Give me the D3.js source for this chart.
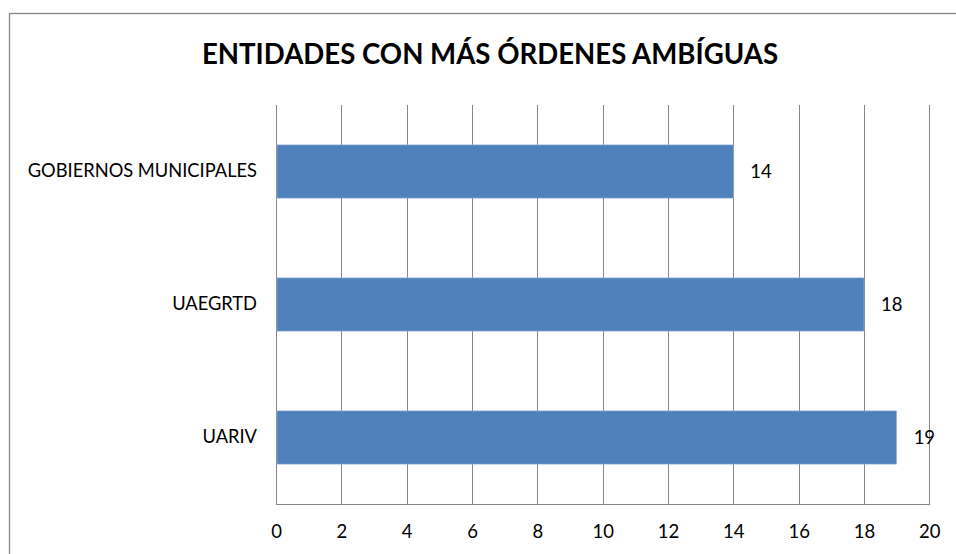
<!DOCTYPE html>
<html>
<head>
<meta charset="utf-8">
<script src="https://cdn.jsdelivr.net/npm/d3@7"></script>
<style>
  body { margin: 0; background: #fff; }
  text { font-family: Lato, "Open Sans", sans-serif; fill: #000; }
</style>
</head>
<body>
<script>
var title = 'ENTIDADES CON MÁS ÓRDENES AMBÍGUAS'
var categories = ['GOBIERNOS MUNICIPALES', 'UAEGRTD', 'UARIV']
var values = [14, 18, 19]
var tickValues = [0, 2, 4, 6, 8, 10, 12, 14, 16, 18, 20]

var width = 956, height = 554
var margin = { top: 105, left: 276, right: 26, bottom: 50 }

var svg = d3.select('body').append('svg')
    .attr('width', width)
    .attr('height', height)

// chart frame (runs off the right and bottom edges)
svg.append('rect')
    .attr('x', 9.5).attr('y', 13.5)
    .attr('width', 1000).attr('height', 600)
    .attr('fill', 'none')
    .attr('stroke', '#868686')
    .attr('stroke-width', 1.3)

svg.append('text')
    .attr('x', 490).attr('y', 64)
    .attr('text-anchor', 'middle')
    .style('font-weight', 'bold')
    .style('font-size', '27.6px')
    .text(title)

var x = d3.scaleLinear()
    .domain([0, 20])
    .range([margin.left, width - margin.right - 0.7])

var y = d3.scaleBand()
    .domain(categories)
    .range([margin.top, height - margin.bottom])
    .paddingInner(0.6)
    .paddingOuter(0.3)

var plotBottom = height - margin.bottom

// vertical gridlines
svg.append('g')
    .selectAll('line')
    .data(tickValues)
    .enter().append('line')
    .attr('x1', function (d) { return Math.round(x(d)) + 0.5 })
    .attr('x2', function (d) { return Math.round(x(d)) + 0.5 })
    .attr('y1', margin.top)
    .attr('y2', plotBottom)
    .attr('stroke', '#868686')
    .attr('stroke-width', 1)

// bottom axis line
svg.append('line')
    .attr('x1', x(0)).attr('x2', x(20) + 1)
    .attr('y1', plotBottom + 0.5).attr('y2', plotBottom + 0.5)
    .attr('stroke', '#868686')
    .attr('stroke-width', 1.2)

// x tick labels
var xAxis = d3.axisBottom(x)
    .tickValues(tickValues)
    .tickSize(0)
    .tickPadding(21)
    .tickFormat(d3.format('d'))

var gx = svg.append('g')
    .attr('transform', 'translate(0,' + plotBottom + ')')
    .call(xAxis)
gx.select('.domain').remove()
gx.selectAll('text')
    .style('font-size', '18.5px')
    .style('font-family', 'Lato, sans-serif')
    .attr('fill', '#000')

// category labels
var yAxis = d3.axisLeft(y)
    .tickSize(0)
    .tickPadding(19)

var gy = svg.append('g')
    .attr('transform', 'translate(' + margin.left + ',0)')
    .call(yAxis)
gy.select('.domain').remove()
gy.selectAll('text')
    .style('font-size', '18.3px')
    .style('font-family', 'Lato, sans-serif')
    .attr('fill', '#000')

// bars
svg.append('g')
    .selectAll('rect')
    .data(values)
    .enter().append('rect')
    .attr('x', x(0) + 1)
    .attr('y', function (d, i) { return y(categories[i]) })
    .attr('width', function (d) { return x(d) - x(0) - 1 })
    .attr('height', y.bandwidth())
    .attr('fill', '#4F81BD')
    .attr('stroke', '#9DB6D9')
    .attr('stroke-width', 0.6)

// value labels
svg.append('g')
    .selectAll('text')
    .data(values)
    .enter().append('text')
    .attr('x', function (d) { return x(d) + 17 })
    .attr('y', function (d, i) { return y(categories[i]) + y.bandwidth() / 2 })
    .attr('dy', '0.35em')
    .style('font-size', '18.5px')
    .text(function (d) { return d })
</script>
</body>
</html>
